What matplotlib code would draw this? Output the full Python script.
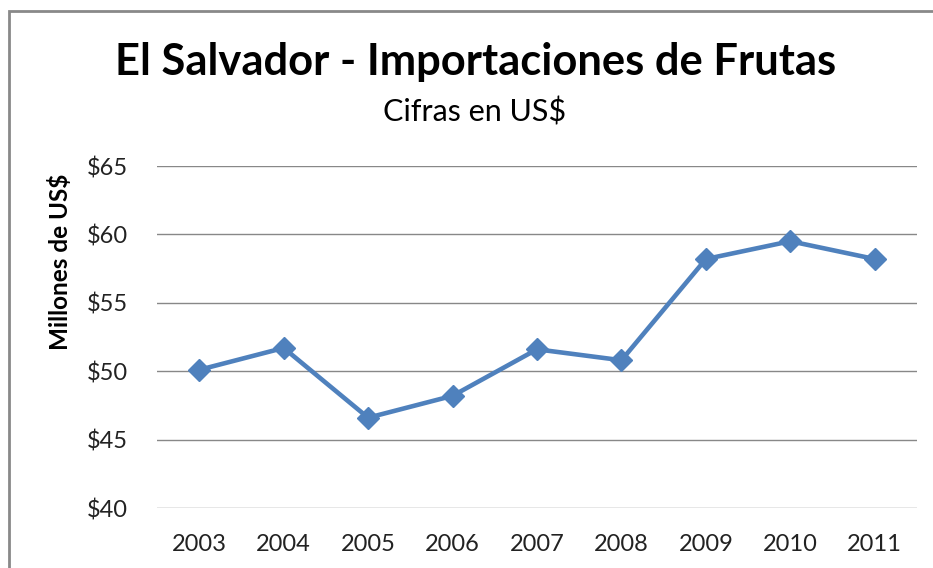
import matplotlib
matplotlib.use("Agg")
import matplotlib.pyplot as plt
from matplotlib.patches import Rectangle

# Datos (millones de US$)
anios = ["2003", "2004", "2005", "2006", "2007", "2008", "2009", "2010", "2011"]
valores = [50.1, 51.7, 46.6, 48.2, 51.6, 50.8, 58.2, 59.5, 58.2]
ticks_y = [40, 45, 50, 55, 60, 65]

plt.rcParams["font.family"] = ["Lato", "DejaVu Sans"]

W, H = 933, 568
fig = plt.figure(figsize=(W / 100, H / 100), dpi=100)

# Marco del grafico
fig.patches.append(Rectangle((9 / W, -0.1), 1.2, 1 - 11 / H + 0.1,
                             transform=fig.transFigure, fill=False,
                             edgecolor="#898989", linewidth=2))

ax = fig.add_axes([157 / W, 60 / H, 760 / W, (508 - 166) / H])
x = list(range(len(anios)))
ax.plot(x, valores, color="#4F81BD", linewidth=3.3, marker="D",
        markersize=11, zorder=3)

ax.set_xlim(-0.5, len(anios) - 0.5)
ax.set_ylim(40, 65)
ax.set_yticks(ticks_y)
ax.set_yticklabels(["$%d" % v for v in ticks_y])
ax.set_xticks(x)
ax.set_xticklabels(anios)
ax.grid(axis="y", color="#888888", linewidth=1)
ax.set_axisbelow(True)
for s in ax.spines.values():
    s.set_visible(False)
ax.tick_params(length=0, labelsize=17, colors="#222222")
ax.tick_params(axis="y", pad=21)
ax.tick_params(axis="x", pad=19)

fig.text(60 / W, 1 - 262 / H, "Millones de US$", rotation=90, ha="center",
         va="center", fontsize=17.5, fontweight="bold")
fig.text(476 / W, 1 - 62 / H, "El Salvador - Importaciones de Frutas",
         ha="center", va="center", fontsize=31.3, fontweight="bold")
fig.text(475 / W, 1 - 112 / H, "Cifras en US$", ha="center", va="center",
         fontsize=22)

fig.savefig("out.png", dpi=100)
